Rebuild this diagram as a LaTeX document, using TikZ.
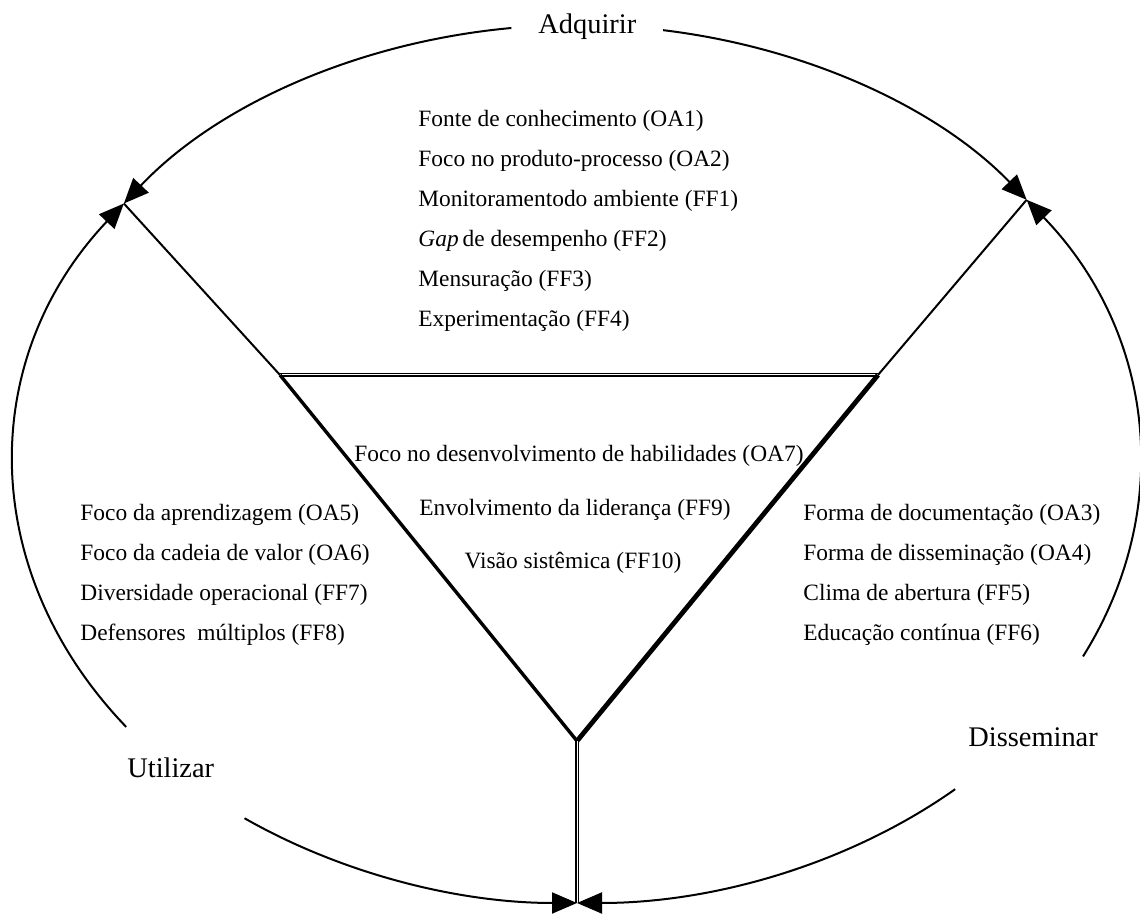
\documentclass[tikz,border=0pt]{standalone}
\usepackage{fontspec}
\setmainfont{Liberation Serif}
\usetikzlibrary{arrows.meta,calc}
\begin{document}
\begin{tikzpicture}[x=0.5pt,y=0.5pt,
  cycleline/.style={line width=1pt},
  headin/.style={{Triangle[length=12.5pt,width=10.5pt]}-},
  spoke/.style={line width=1pt},
  twin/.style={double, line width=0.55pt, double distance=0.5pt},
  item/.style={anchor=base west, inner sep=0pt, font=\fontsize{11.7}{14}\selectfont},
  citem/.style={anchor=base, inner sep=0pt, font=\fontsize{11.7}{14}\selectfont},
  phase/.style={anchor=base west, inner sep=0pt, font=\fontsize{14.2}{17}\selectfont}]
\useasboundingbox (0,0) rectangle (1140,914);

% centre of the cycle and its junction points
\coordinate (O) at (577,450);
\coordinate (TL) at ($(O)+(143.6:563 and 439)$);
\coordinate (TR) at ($(O)+(37:563 and 439)$);
\coordinate (B)  at ($(O)+(270:563 and 439)$);

% inner triangle
\coordinate (A1) at (280,539);
\coordinate (A2) at (878,539);
\coordinate (A3) at (577,173);

\draw[spoke] (TL) -- (A1);
\draw[spoke] (TR) -- (A2);
\draw[twin] (A1) -- (A2);
\draw[line width=1.7pt] (A1) -- (A3);
\draw[line width=2.4pt] (A2) -- (A3);
\draw[twin] (A3) -- (B);

% arcs of the cycle, each ending with a head at a junction
\draw[cycleline, headin] (TL) arc[start angle=143.6, end angle=96.7, x radius=563, y radius=439];
\draw[cycleline, headin] (TR) arc[start angle=37, end angle=81.2, x radius=563, y radius=439];
\draw[cycleline, headin] (TL) arc[start angle=143.6, end angle=216.8, x radius=563, y radius=439];
\draw[cycleline, headin] (TR) arc[start angle=37, end angle=-26, x radius=563, y radius=439];
\draw[cycleline, headin] (B) arc[start angle=270, end angle=233.8, x radius=563, y radius=439];
\draw[cycleline, headin] (B) arc[start angle=270, end angle=312.2, x radius=563, y radius=439];

% phase labels
\node[phase] (adq) at (538,880) {Adquirir};
\node[phase] (uti) at (127,136) {Utilizar};
\node[phase] (dis) at (968,167) {Disseminar};

% acquisition factors
\node[item] (t1) at (418,787) {Fonte de conhecimento (OA1)};
\node[item] (t2) at (418,747) {Foco no produto-processo (OA2)};
\node[item] (t3) at (418,707) {Monitoramentodo ambiente (FF1)};
\node[item] (t4) at (418,667) {\textit{Gap}\,de desempenho (FF2)};
\node[item] (t5) at (418,627) {Mensuração (FF3)};
\node[item] (t6) at (418,587) {Experimentação (FF4)};

% use factors
\node[item] (l1) at (80,393) {Foco da aprendizagem (OA5)};
\node[item] (l2) at (80,353) {Foco da cadeia de valor (OA6)};
\node[item] (l3) at (80,313) {Diversidade operacional (FF7)};
\node[item] (l4) at (80,273) {Defensores\ \ múltiplos (FF8)};

% dissemination factors
\node[item] (r1) at (803,393) {Forma de documentação (OA3)};
\node[item] (r2) at (803,353) {Forma de disseminação (OA4)};
\node[item] (r3) at (803,313) {Clima de abertura (FF5)};
\node[item] (r4) at (803,273) {Educação contínua (FF6)};

% factors in the triangle
\node[citem] (c1) at (579,452) {Foco no desenvolvimento de habilidades (OA7)};
\node[citem] (c2) at (575,398) {Envolvimento da liderança (FF9)};
\node[citem] (c3) at (573,345) {Visão sistêmica (FF10)};
\end{tikzpicture}
\end{document}
